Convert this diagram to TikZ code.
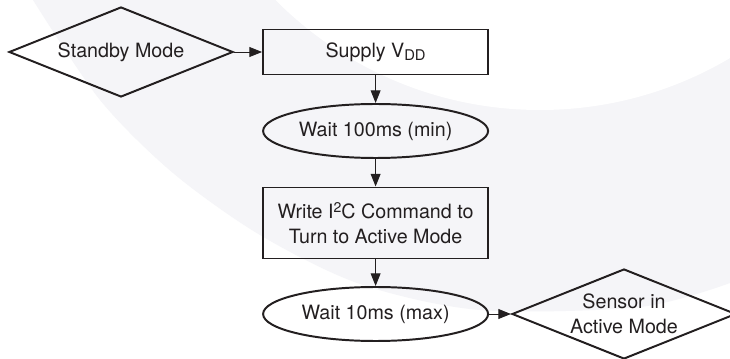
\documentclass[tikz,border=0pt]{standalone}
\usepackage{fontspec}
\setmainfont{TeX Gyre Heros}
\usetikzlibrary{shapes.geometric, arrows.meta}
\definecolor{ink}{HTML}{231F20}
\definecolor{swoosh}{HTML}{F5F5F8}
\newcommand{\lowidx}[1]{\raisebox{-2.4pt}{\fontsize{10.5}{10.5}\selectfont #1}}
\newcommand{\highidx}[1]{\raisebox{4.3pt}{\fontsize{10}{10}\selectfont #1}}

\begin{document}
\begin{tikzpicture}[
      >={Triangle[length=9pt, width=7pt]},
      font=\fontsize{14}{17.8}\selectfont,
      every node/.style={text=ink},
      box/.style={draw=ink, line width=1.4pt, rectangle, minimum width=5.625cm, minimum height=1.125cm, inner sep=0pt, align=center},
      oval/.style={draw=ink, line width=1.4pt, ellipse, minimum width=5.625cm, minimum height=1.35cm, inner sep=0pt},
      decision/.style={draw=ink, line width=1.4pt, diamond, aspect=2.5, minimum width=5.6cm, minimum height=2.25cm, inner sep=0pt, align=center},
      link/.style={draw=ink, line width=0.7pt, ->},
    ]
      \clip (0, 0) rectangle (18.25, 8.95);
      \fill[white] (0, 0) rectangle (18.25, 8.95);
      \fill[swoosh] plot[smooth] coordinates {(0.825, 8.95) (2.5, 6.45) (4.325, 4.625) (6.5, 3.075) (9, 1.85) (12, 1.2) (16, 1.275) (18.25, 1.875)} -- (18.25, 8.95) -- cycle;
      \fill[white] (13.5, 15.525) circle (9.325cm);
      \node[decision] (standby) at (3.025, 7.65) {Standby Mode};
      \node[box] (supply) at (9.39, 7.65) {Supply V\lowidx{DD}};
      \node[oval] (wait100) at (9.39, 5.675) {Wait 100ms (min)};
      \node[box, minimum height=1.775cm] (write) at (9.39, 3.375) {Write I\highidx{2}C Command to\\Turn to Active Mode};
      \node[oval] (wait10) at (9.39, 1.1) {Wait 10ms (max)};
      \node[decision] (sensor) at (15.6, 1.1) {Sensor in\\Active Mode};
      \draw[link] (standby) -- (supply);
      \draw[link] (supply) -- (wait100);
      \draw[link] (wait100) -- (write);
      \draw[link] (write) -- (wait10);
      \draw[link] (wait10) -- (sensor);
    \end{tikzpicture}
\end{document}
